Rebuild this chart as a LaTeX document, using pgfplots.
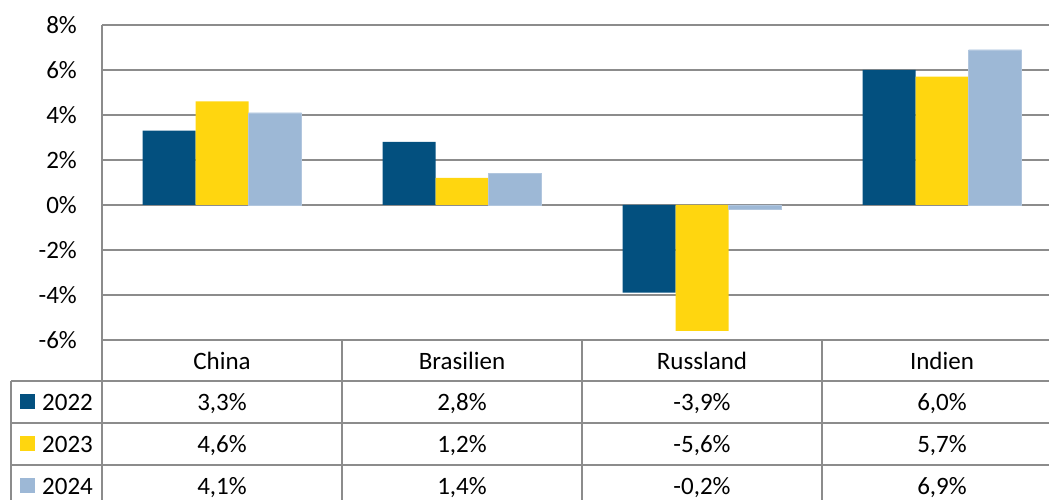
\documentclass[border=0pt]{standalone}
\usepackage{pgfplots}
\pgfplotsset{compat=1.18}
\usepackage{pgfplotstable}
\usepackage{fontspec}
\setmainfont{Carlito}

\definecolor{c22}{HTML}{03507F}
\definecolor{c23}{HTML}{FFD60F}
\definecolor{c24}{HTML}{9DB8D6}
\definecolor{gridc}{HTML}{8C8C8C}

% growth per country, columns = years 2022/2023/2024
\pgfplotstableread{
x a b c
0 3.3 4.6 4.1
1 2.8 1.2 1.4
2 -3.9 -5.6 -0.2
3 6.0 5.7 6.9
}\growth

\begin{document}
\fontsize{25}{30}\selectfont
\begin{tikzpicture}[x=1pt,y=1pt]
\useasboundingbox (0,0) rectangle (1049,500);
\clip (0,0) rectangle (1049,500);
\begin{axis}[
    at={(102pt,160pt)}, anchor=south west,
    scale only axis, width=947pt, height=315pt,
    ybar=0pt, bar width=53pt,
    xmin=-0.5, xmax=3.4458,
    ymin=-6, ymax=8,
    ytick={-6,-4,...,8},
    yticklabels={-6\%,-4\%,-2\%,0\%,2\%,4\%,6\%,8\%},
    xtick=\empty,
    ymajorgrids,
    grid style={gridc, line width=2pt},
    axis line style={draw=none},
    major tick length=0pt,
    yticklabel style={font=\fontsize{25}{30}\selectfont, inner sep=0pt, xshift=-25pt},
]
\addplot[fill=c22, draw=none] table[x=x,y=a]{\growth};
\addplot[fill=c23, draw=none] table[x=x,y=b]{\growth};
\addplot[fill=c24, draw=c24!80!white] table[x=x,y=c]{\growth};
\end{axis}

% data table below the axis
\begin{scope}[gridc, line width=2pt]
\draw (102,475) -- (102,-10);
\foreach \xx in {342,582,822} \draw (\xx,160) -- (\xx,-10);
\draw (11,119) -- (11,-10);
\foreach \yy in {119,77,35} \draw (11,\yy) -- (1049,\yy);
\end{scope}

\foreach \name [count=\i from 0] in {China,Brasilien,Russland,Indien}
  \node[text height=17pt, text depth=0pt] at ({222+240*\i},139) {\name};

\foreach \col/\yy/\clr/\yr in {a/98/c22/2022, b/56/c23/2023, c/14/c24/2024} {
  \fill[\clr] (20,\yy-7.5) rectangle (35,\yy+7.5);
  \node[anchor=west, inner sep=0pt, text height=17pt, text depth=0pt] at (42,\yy) {\yr};
  \foreach \r in {0,...,3} {
    \pgfplotstablegetelem{\r}{\col}\of\growth
    \let\cellval\pgfplotsretval
    \node[text height=17pt, text depth=0pt] at ({222+240*\r},\yy)
      {\pgfmathprintnumber[fixed, fixed zerofill, precision=1, use comma, assume math mode=true]{\cellval}\%};
  }
}
\end{tikzpicture}
\end{document}
